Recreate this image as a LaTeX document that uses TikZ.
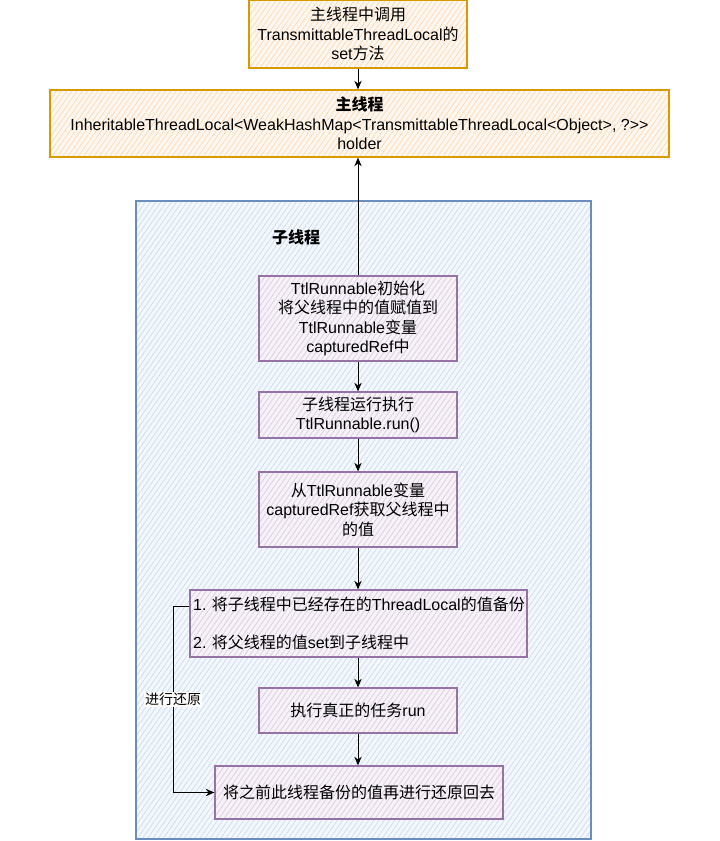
\documentclass[tikz,border=0pt]{standalone}
\usepackage{fontspec}
\setmainfont{Liberation Sans}
\newfontfamily\cjk{Noto Sans CJK SC}
\usetikzlibrary{patterns.meta,arrows.meta,calc}
\newcommand\zh[1]{{\cjk #1}}
\definecolor{orstroke}{HTML}{D79B00}
\definecolor{orfill}{HTML}{FFE6CC}
\definecolor{blstroke}{HTML}{6C8EBF}
\definecolor{blfill}{HTML}{DAE8FC}
\definecolor{pustroke}{HTML}{9673A6}
\definecolor{pufill}{HTML}{E1D5E7}
\tikzset{
  hatchbox/.style n args={3}{draw=#1, line width=0.9pt,
    preaction={fill=#2!30},
    pattern={Lines[angle=55,distance=3.2pt,line width=0.5pt]}, pattern color=#3,
    inner sep=0pt, align=center, font=\fontsize{12}{14.6}\selectfont},
  obox/.style={hatchbox={orstroke}{orfill}{orfill!85!orange}},
  pbox/.style={hatchbox={pustroke}{pufill}{pufill!90!pustroke}},
  bbox/.style={hatchbox={blstroke}{blfill}{blfill!85!blstroke}},
  arr/.style={draw=black, line width=0.75pt, -{Stealth[length=6.5pt,width=5.5pt]}},
  lbl/.style={fill=white, inner sep=1pt, font=\fontsize{10.5}{12}\selectfont},
}
\begin{document}
\begin{tikzpicture}[x=0.75pt,y=-0.75pt]
\useasboundingbox (0,0) rectangle (719,841);
\node[bbox, minimum width=341.25pt, minimum height=478.5pt] (sub) at (363.5,520) {};
\node[font=\fontsize{12}{14}\selectfont\bfseries] (sublabel) at (296,237) {\zh{子线程}};
\node[obox, minimum width=163.5pt, minimum height=51pt] (top) at (358,34)
  {\zh{主线程中调用}\\TransmittableThreadLocal\zh{的}\\set\zh{方法}};
\node[obox, minimum width=464.25pt, minimum height=50.25pt] (main) at (359.5,123.5)
  {{\cjk\bfseries 主线程}\\InheritableThreadLocal<WeakHashMap<TransmittableThreadLocal<Object>, ?>{}>\\holder};
\node[pbox, minimum width=148.5pt, minimum height=63.75pt] (b1) at (358,318.5)
  {TtlRunnable\zh{初始化}\\\zh{将父线程中的值赋值到}\\TtlRunnable\zh{变量}\\capturedRef\zh{中}};
\node[pbox, minimum width=148.5pt, minimum height=34.5pt] (b2) at (358,415)
  {\zh{子线程运行执行}\\TtlRunnable.run()};
\node[pbox, minimum width=148.5pt, minimum height=56.25pt] (b3) at (358,509.5)
  {\zh{从}TtlRunnable\zh{变量}\\capturedRef\zh{获取父线程中}\\\zh{的值}};
\node[pbox, minimum width=252.75pt, minimum height=50.25pt, align=left, text width=248pt] (b4) at (358.5,623.5)
  {1.\ \zh{将子线程中已经存在的}ThreadLocal\zh{的值备份}\\[14pt]2.\ \zh{将父线程的值}set\zh{到子线程中}};
\node[pbox, minimum width=148.5pt, minimum height=33.75pt] (b5) at (358,710.5)
  {\zh{执行真正的任务}run};
\node[pbox, minimum width=216pt, minimum height=39.75pt] (b6) at (359,792.5)
  {\zh{将之前此线程备份的值再进行还原回去}};
\coordinate (b4s) at ($(b4.north west)!0.25!(b4.south west)$);
\coordinate (lx) at (173,0);
\draw[arr] (top.south) -- (top.south |- main.north);
\draw[arr] (b1.north) -- (b1.north |- main.south);
\draw[arr] (b1) -- (b2);
\draw[arr] (b2) -- (b3);
\draw[arr] (b3.south) -- (b3.south |- b4.north);
\draw[arr] (b4.south -| b5.north) -- (b5.north);
\draw[arr] (b5.south) -- (b5.south |- b6.north);
\draw[arr] (b4s) -- (b4s -| lx) |- (b6.west) node[lbl, pos=0.25] (lab) {\zh{进行还原}};
\end{tikzpicture}
\end{document}
